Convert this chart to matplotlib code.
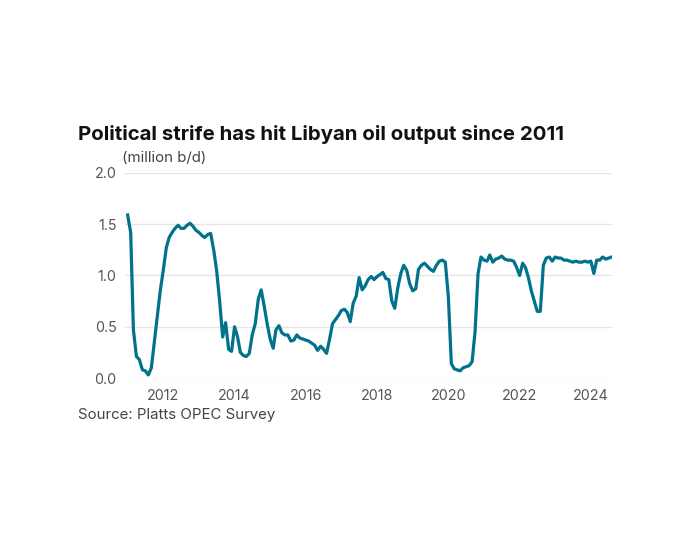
import matplotlib
matplotlib.use('Agg')
import matplotlib.pyplot as plt
import matplotlib.dates as mdates
import pandas as pd

# monthly output, million b/d, Jan 2011 - Aug 2024
output = [
    1.59, 1.42, 0.47, 0.21, 0.18, 0.08, 0.07, 0.03, 0.10, 0.35, 0.60, 0.85,  # 2011
    1.05, 1.27, 1.37, 1.42, 1.46, 1.49, 1.46, 1.46, 1.49, 1.51, 1.48, 1.44,  # 2012
    1.42, 1.39, 1.37, 1.40, 1.41, 1.25, 1.05, 0.75, 0.40, 0.54, 0.28, 0.26,  # 2013
    0.50, 0.40, 0.25, 0.22, 0.21, 0.24, 0.42, 0.53, 0.77, 0.86, 0.70, 0.53,  # 2014
    0.38, 0.29, 0.47, 0.51, 0.44, 0.42, 0.42, 0.36, 0.37, 0.42, 0.39, 0.38,  # 2015
    0.37, 0.36, 0.34, 0.32, 0.27, 0.31, 0.28, 0.24, 0.38, 0.53, 0.57, 0.61,  # 2016
    0.66, 0.67, 0.64, 0.55, 0.73, 0.80, 0.98, 0.86, 0.90, 0.96, 0.99, 0.96,  # 2017
    0.99, 1.01, 1.03, 0.97, 0.96, 0.75, 0.68, 0.88, 1.02, 1.10, 1.05, 0.92,  # 2018
    0.85, 0.87, 1.06, 1.10, 1.12, 1.09, 1.06, 1.04, 1.10, 1.14, 1.15, 1.13,  # 2019
    0.80, 0.14, 0.09, 0.08, 0.07, 0.10, 0.11, 0.12, 0.16, 0.45, 1.02, 1.18,  # 2020
    1.15, 1.14, 1.20, 1.13, 1.16, 1.17, 1.19, 1.16, 1.15, 1.15, 1.14, 1.08,  # 2021
    1.00, 1.12, 1.08, 0.98, 0.85, 0.75, 0.65, 0.65, 1.10, 1.17, 1.18, 1.14,  # 2022
    1.18, 1.17, 1.17, 1.15, 1.15, 1.14, 1.13, 1.14, 1.13, 1.13, 1.14, 1.13,  # 2023
    1.14, 1.02, 1.15, 1.15, 1.18, 1.16, 1.17, 1.18,                          # 2024
]
months = pd.date_range('2011-01-01', periods=len(output), freq='MS')
tick_years = [2012, 2014, 2016, 2018, 2020, 2022, 2024]
y_ticks = [0.0, 0.5, 1.0, 1.5, 2.0]

plt.rcParams['font.family'] = ['Inter', 'DejaVu Sans']

fig = plt.figure(figsize=(7, 5.5), dpi=100)
ax = fig.add_axes([0.1786, 0.3127, 0.6957, 0.3728])

ax.plot(months, output, color='#00728c', linewidth=2.3, solid_joinstyle='round')

ax.set_ylim(0, 2.0)
ax.set_xlim(pd.Timestamp('2010-12-05'), pd.Timestamp('2024-08-05'))
ax.set_yticks(y_ticks)
ax.set_yticklabels([f'{v:.1f}' for v in y_ticks])
ax.set_xticks([pd.Timestamp(f'{y}-01-01') for y in tick_years])
ax.xaxis.set_major_formatter(mdates.DateFormatter('%Y'))

ax.grid(axis='y', color='#e6e6e6', linewidth=1.0)
ax.set_axisbelow(True)
for s in ax.spines.values():
    s.set_visible(False)
ax.tick_params(axis='both', length=0, labelsize=10.3, labelcolor='#555555')
ax.tick_params(axis='x', pad=8)
ax.tick_params(axis='y', pad=6)

fig.text(0.111, 0.755, 'Political strife has hit Libyan oil output since 2011',
         fontsize=14.7, fontweight='bold', color='#111111', va='center')
fig.text(0.174, 0.712, '(million b/d)', fontsize=10.8, color='#444444', va='center')
fig.text(0.111, 0.245, 'Source: Platts OPEC Survey', fontsize=10.8, color='#444444', va='center')

fig.savefig('out.png', dpi=100)
